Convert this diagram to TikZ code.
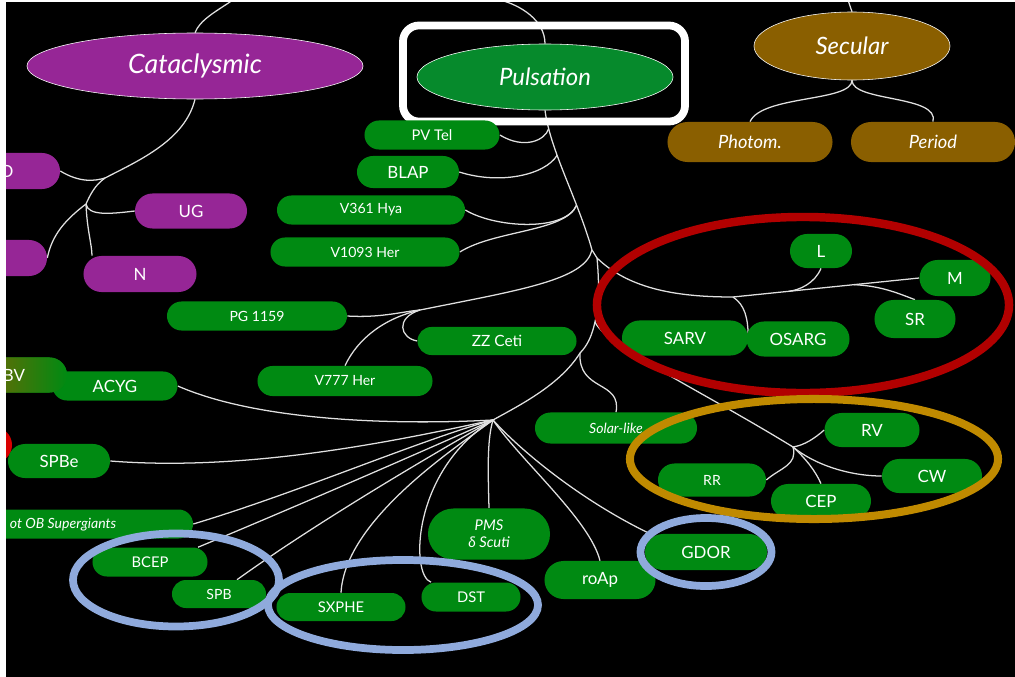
\documentclass[tikz,border=0pt]{standalone}
\usepackage{fontspec}
\setmainfont{Lato}
\usetikzlibrary{shapes.misc,shapes.geometric}

\definecolor{pulsgreen}{RGB}{0,138,18}
\definecolor{ellgreen}{RGB}{6,138,44}
\definecolor{catpurple}{RGB}{150,38,150}
\definecolor{secbrown}{RGB}{138,95,0}
\definecolor{lpvred}{RGB}{178,0,0}
\definecolor{cepgold}{RGB}{192,138,0}
\definecolor{ringblue}{RGB}{143,170,220}

\pgfdeclarelayer{back}
\pgfdeclarelayer{links}
\pgfsetlayers{back,links,main}

\begin{document}
\begin{tikzpicture}[x=0.025cm,y=-0.025cm,
    pill/.style={rounded rectangle,fill=pulsgreen,text=white,inner sep=0pt,
                 font=\fontsize{10}{12}\selectfont},
    bigpill/.style={pill,font=\fontsize{12}{14}\selectfont},
    catpill/.style={bigpill,fill=catpurple},
    secpill/.style={pill,fill=secbrown,font=\fontsize{13}{15}\selectfont\itshape},
    family/.style={ellipse,draw=white,thin,text=white,inner sep=0pt},
    ring/.style={ellipse,draw,inner sep=0pt,line width=5.5pt},
    link/.style={draw=white!88!black,line width=0.9pt}]

  % frame
  \useasboundingbox (0,0) rectangle (1015,677);
  \begin{pgfonlayer}{back}
    \fill[black] (0,0) rectangle (1015,677);
  \end{pgfonlayer}

  % the three families
  \node[family,fill=catpurple,minimum width=8.4cm,minimum height=1.65cm,
        font=\fontsize{19}{22}\selectfont\itshape] (cat) at (195,66) {Cataclysmic};
  \node[family,fill=ellgreen,minimum width=6.4cm,minimum height=1.65cm,
        font=\fontsize{17}{20}\selectfont\itshape] (puls) at (545,77) {Pulsation};
  \node[draw=white,line width=5.5pt,rounded corners=0.4cm,minimum width=7.05cm,
        minimum height=2.4cm] (pulsframe) at (544,73.5) {};
  \node[family,fill=secbrown,minimum width=4.9cm,minimum height=1.7cm,
        font=\fontsize{17}{20}\selectfont\itshape] (sec) at (852,46) {Secular};

  % secular
  \node[secpill,minimum width=4.125cm,minimum height=1cm] (photom) at (750,142) {Photom.};
  \node[secpill,minimum width=4.1cm,minimum height=1cm] (period) at (933,142) {Period};

  % cataclysmic
  \node[catpill,minimum width=2.5cm,minimum height=0.9cm] (dpill) at (10,171) {};
  \node[text=white,font=\fontsize{12}{14}\selectfont] (dlabel) at (7,171) {D};
  \node[catpill,minimum width=2.35cm,minimum height=0.9cm] (pilltwo) at (0,258) {};
  \node[catpill,minimum width=2.8cm,minimum height=0.875cm] (ug) at (191,211) {UG};
  \node[catpill,minimum width=2.825cm,minimum height=0.9cm] (nova) at (140,274) {N};

  % pulsation
  \node[pill,minimum width=3.375cm,minimum height=0.725cm,
        font=\fontsize{10.5}{12}\selectfont] (pvtel) at (432,135) {PV Tel};
  \node[bigpill,minimum width=2.55cm,minimum height=0.8cm] (blap) at (408,172) {BLAP};
  \node[pill,minimum width=4.7cm,minimum height=0.725cm] (vhya) at (371,210) {V361 Hya};
  \node[pill,minimum width=4.725cm,minimum height=0.725cm] (vher) at (365,252) {V1093 Her};
  \node[pill,minimum width=4.5cm,minimum height=0.725cm] (pgvar) at (257,316) {PG 1159};
  \node[pill,minimum width=3.975cm,minimum height=0.7cm,
        font=\fontsize{11}{13}\selectfont] (zzceti) at (497,341) {ZZ Ceti};
  \node[pill,minimum width=4.375cm,minimum height=0.75cm] (vsevher) at (345,381) {V777 Her};
  \node[pill,minimum width=3.125cm,minimum height=0.725cm,
        font=\fontsize{12}{14}\selectfont] (acyg) at (115,386) {ACYG};
  \node[bigpill,left color=secbrown,right color=pulsgreen,minimum width=2.65cm,
        minimum height=0.875cm] (bvpill) at (14,375) {BV};
  \node[circle,fill=red!85!black,minimum size=0.9cm,inner sep=0pt] (redblob) at (-6,445) {};
  \node[bigpill,minimum width=2.55cm,minimum height=0.85cm] (spbe) at (59,461) {SPBe};
  \node[pill,minimum width=5.15cm,minimum height=0.725cm] (otob) at (90,524) {};
  \node[anchor=west,text=white,font=\fontsize{10}{12}\selectfont\itshape] (otoblabel)
        at (5,525) {ot OB Supergiants};
  \node[pill,minimum width=2.875cm,minimum height=0.725cm,
        font=\fontsize{10.5}{12}\selectfont] (bcep) at (150,562) {BCEP};
  \node[pill,minimum width=2.35cm,minimum height=0.7cm] (spb) at (219,594) {SPB};
  \node[pill,minimum width=3.225cm,minimum height=0.7cm,
        font=\fontsize{10.5}{12}\selectfont] (sxphe) at (341,607) {SXPHE};
  \node[pill,minimum width=2.475cm,minimum height=0.725cm,
        font=\fontsize{10.5}{12}\selectfont] (dst) at (471,597) {DST};
  \node[pill,minimum width=3.05cm,minimum height=1.275cm,align=center,
        font=\fontsize{10.5}{12}\selectfont\itshape] (pms) at (489,534) {PMS\\δ Scuti};
  \node[bigpill,minimum width=2.775cm,minimum height=0.95cm] (roap) at (600,580) {roAp};
  \node[bigpill,minimum width=3.05cm,minimum height=0.9cm] (gdor) at (706,552) {GDOR};
  \node[pill,minimum width=4.05cm,minimum height=0.775cm,
        font=\fontsize{10}{12}\selectfont\itshape] (solar) at (616,428) {Solar-like};
  \node[pill,minimum width=2.7cm,minimum height=0.825cm] (rrlyr) at (712,480) {RR};
  \node[bigpill,minimum width=2.5cm,minimum height=0.85cm] (cep) at (821,501) {CEP};
  \node[bigpill,minimum width=2.375cm,minimum height=0.85cm] (rvtau) at (872,430) {RV};
  \node[bigpill,minimum width=2.5cm,minimum height=0.85cm] (cw) at (932,476) {CW};
  \node[bigpill,minimum width=3.15cm,minimum height=0.875cm] (sarv) at (685,338) {SARV};
  \node[bigpill,minimum width=2.575cm,minimum height=0.875cm] (osarg) at (798,339) {OSARG};
  \node[bigpill,minimum width=1.55cm,minimum height=0.85cm] (lvar) at (821,251) {L};
  \node[bigpill,minimum width=1.775cm,minimum height=0.9cm] (mvar) at (955,278) {M};
  \node[bigpill,minimum width=2.025cm,minimum height=0.95cm] (srvar) at (915,319) {SR};

  % junctions
  \coordinate (cattop) at (233,0);
  \coordinate (pulstop) at (500,0);
  \coordinate (sectop) at (848,0);
  \coordinate (catj) at (105,178);
  \coordinate (catk) at (86,204);
  \coordinate (t1) at (592,250);
  \coordinate (t2) at (597,258);
  \coordinate (t3) at (595,322);
  \coordinate (t4) at (580,353);
  \coordinate (hub) at (493,420);
  \coordinate (pgj) at (420,310);
  \coordinate (lpvj) at (733,297);
  \coordinate (cephub) at (793,447);

  \begin{pgfonlayer}{links}
    % cataclysmic tree
    \path[link] (cattop) .. controls (215,12) and (200,20) .. (cat.north);
    \path[link] (cat.south) .. controls (185,140) and (140,160) .. (catj)
                .. controls (95,185) and (90,195) .. (catk)
                .. controls (65,220) and (52,235) .. (pilltwo.east);
    \path[link] (dpill.east) .. controls (80,183) and (95,181) .. (catj);
    \path[link] (catk) .. controls (88,216) and (110,214) .. (ug.west);
    \path[link] (catk) .. controls (87,230) and (92,245) .. ([xshift=-1.2cm]nova.north);
    % secular tree
    \path[link] (sectop) .. controls (850,5) .. (sec.north);
    \path[link] (sec.south) .. controls (852,102) and (762,95) .. (photom.north);
    \path[link] (sec.south) .. controls (852,102) and (940,95) .. (period.north);
    % pulsation trunk
    \path[link] (pulstop) .. controls (520,5) and (545,20) .. (puls.north);
    \path[link] (puls.south) .. controls (550,150) and (578,200)
                .. coordinate[pos=.15] (jpv) coordinate[pos=.35] (jbl)
                   coordinate[pos=.7] (jv) (t1) -- (t2)
                .. controls (600,290) and (598,310) .. (t3)
                .. controls (592,335) and (588,345) .. (t4)
                .. controls (560,385) and (520,405) .. (hub);
    \path[link] (pvtel.east) .. controls (525,150) and (545,140) .. (jpv);
    \path[link] (blap.east) .. controls (500,185) and (545,175) .. (jbl);
    \path[link] (vhya.east) .. controls (495,228) and (565,232) .. (jv);
    \path[link] (vher.east) .. controls (495,230) and (565,232) .. (jv);
    % white dwarf group
    \path[link] (pgvar.east) .. controls (380,318) and (400,312) .. (pgj);
    \path[link] (zzceti.west) .. controls (400,338) and (395,318) .. (pgj);
    \path[link] (vsevher.north) .. controls (358,338) and (385,318) .. (pgj);
    \path[link] (pgj) .. controls (520,290) and (585,280) .. (t1);
    % long period group
    \path[link] (t2) .. controls (630,290) and (680,297) .. (lpvj);
    \path[link] (lpvj) -- coordinate[pos=.3] (lj) coordinate[pos=.65] (srj) (mvar.west);
    \path[link] (lvar.south) .. controls (815,283) and (800,290) .. (lj);
    \path[link] (srj) .. controls (880,286) and (895,292) .. (srvar.north);
    \path[link] (lpvj) .. controls (745,305) and (748,318) .. (sarv.east);
    % cepheid group
    \path[link] (t3) .. controls (605,345) and (700,390) .. (cephub);
    \path[link] (cephub) .. controls (805,445) and (815,438) .. (rvtau.west);
    \path[link] (cephub) .. controls (815,465) and (850,476) .. (cw.west);
    \path[link] (cephub) .. controls (805,458) and (815,470) .. (cep.north);
    \path[link] (cephub) .. controls (798,465) and (780,468) .. (rrlyr.east);
    % solar-like
    \path[link] (t4) .. controls (578,392) and (622,380) .. (solar.north);
    % fan below the hub
    \path[link] (acyg.east) .. controls (260,422) and (400,425) .. (hub);
    \path[link] (spbe.east) .. controls (250,472) and (400,440) .. (hub);
    \path[link] (otob.east) .. controls (300,492) and (420,440) .. (hub);
    \path[link] ([xshift=1.2cm]bcep.north) .. controls (300,505) and (430,448) .. (hub);
    \path[link] ([xshift=0.45cm]spb.north) .. controls (320,520) and (440,450) .. (hub);
    \path[link] (sxphe.north) .. controls (345,520) and (455,448) .. (hub);
    \path[link] ([xshift=-1cm]dst.north) .. controls (410,575) and (412,470) .. (hub);
    \path[link] (pms.north) .. controls (488,470) and (487,440) .. (hub);
    \path[link] (roap.north) .. controls (590,520) and (520,460) .. (hub);
    \path[link] ([xshift=-1.4cm]gdor.north) .. controls (580,500) and (520,450) .. (hub);
  \end{pgfonlayer}

  % group rings
  \node[ring,draw=lpvred,line width=6pt,minimum width=10.3cm,minimum height=4.4cm]
        (lpvring) at (803,305) {};
  \node[ring,draw=cepgold,line width=5.7pt,minimum width=9.2cm,minimum height=3cm]
        (cepring) at (814,459) {};
  \node[ring,draw=ringblue,minimum width=5.15cm,minimum height=2.325cm]
        (bring) at (176,580) {};
  \node[ring,draw=ringblue,minimum width=6.75cm,minimum height=2.25cm]
        (dring) at (403,605) {};
  \node[ring,draw=ringblue,minimum width=3.275cm,minimum height=1.7cm]
        (gring) at (706,552) {};

  % page margin
  \fill[white] (0,0) rectangle (6,677);
  \fill[white] (0,0) rectangle (1015,2);
\end{tikzpicture}
\end{document}
